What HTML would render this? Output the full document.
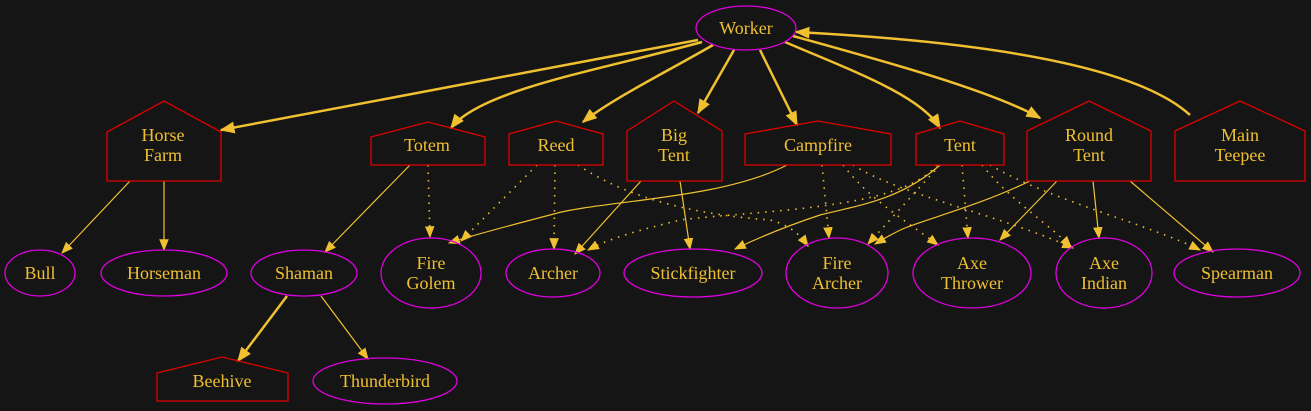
<!DOCTYPE html>
<html><head><style>
html,body{margin:0;padding:0;background:#151515;}
svg{display:block}
text{font-family:"Liberation Serif",serif;font-size:18px;fill:#f0c030;text-anchor:middle;}
.e{fill:none;stroke:#e000e0;stroke-width:1.3}
.h{fill:none;stroke:#e00000;stroke-width:1.3}
.l{fill:none;stroke:#f0c030;stroke-width:1.2}
.t{fill:none;stroke:#f0c030;stroke-width:2.5}
.d{fill:none;stroke:#f0c030;stroke-width:1.6;stroke-dasharray:1.5 6}
</style></head><body>
<svg width="1311" height="411" viewBox="0 0 1311 411" xmlns="http://www.w3.org/2000/svg">
<defs>
<marker id="a" viewBox="0 0 10 8" refX="9" refY="4" markerWidth="12" markerHeight="10" markerUnits="userSpaceOnUse" orient="auto"><path d="M0,0 L10,4 L0,8 Z" fill="#f0c030"/></marker>
<marker id="b" viewBox="0 0 10 8" refX="9" refY="4" markerWidth="15" markerHeight="12" markerUnits="userSpaceOnUse" orient="auto"><path d="M0,0 L10,4 L0,8 Z" fill="#f0c030"/></marker>
</defs>
<rect width="1311" height="411" fill="#151515"/>
<path class="t" marker-end="url(#b)" d="M698,40 L221,130"/>
<path class="t" marker-end="url(#b)" d="M702,42 C600,70 480,90 451,128"/>
<path class="t" marker-end="url(#b)" d="M713,45 C670,70 610,100 583,122"/>
<path class="t" marker-end="url(#b)" d="M734,50 L698,113"/>
<path class="t" marker-end="url(#b)" d="M760,50 L797,125"/>
<path class="t" marker-end="url(#b)" d="M785,42 C850,70 920,95 940,128"/>
<path class="t" marker-end="url(#b)" d="M793,36 C880,60 990,90 1040,118"/>
<path class="t" marker-end="url(#b)" d="M1190,115 C1130,60 950,40 796,32"/>
<path class="l" marker-end="url(#a)" d="M130,181 L62,253"/>
<path class="l" marker-end="url(#a)" d="M164,181 L164,250"/>
<path class="l" marker-end="url(#a)" d="M410,165 L325,252"/>
<path class="t" marker-end="url(#b)" d="M287,296 L238,361"/>
<path class="l" marker-end="url(#a)" d="M321,296 L368,359"/>
<path class="l" marker-end="url(#a)" d="M641,181 L575,254"/>
<path class="l" marker-end="url(#a)" d="M680,181 L690,249"/>
<path class="l" marker-end="url(#a)" d="M787,165 C720,200 600,200 550,215 C500,228 470,236 449,243"/>
<path class="l" marker-end="url(#a)" d="M940,165 C900,200 860,205 820,215 C790,225 760,237 735,249"/>
<path class="l" marker-end="url(#a)" d="M1030,181 C980,205 930,218 905,228 C895,232 885,238 875,244"/>
<path class="l" marker-end="url(#a)" d="M1057,181 L1000,240"/>
<path class="l" marker-end="url(#a)" d="M1093,181 L1099,238"/>
<path class="l" marker-end="url(#a)" d="M1130,181 L1213,252"/>
<path class="d" marker-end="url(#a)" d="M428,165 L430,237"/>
<path class="d" marker-end="url(#a)" d="M537,165 L461,241"/>
<path class="d" marker-end="url(#a)" d="M555,165 L554,249"/>
<path class="d" marker-end="url(#a)" d="M578,165 C630,200 700,215 770,220 C790,225 800,235 808,246"/>
<path class="d" marker-end="url(#a)" d="M822,165 L829,238"/>
<path class="d" marker-end="url(#a)" d="M843,165 C870,200 905,220 938,245"/>
<path class="d" marker-end="url(#a)" d="M853,165 C900,195 1000,215 1073,248"/>
<path class="d" marker-end="url(#a)" d="M937,165 C900,210 760,210 680,220 C640,230 610,238 588,250"/>
<path class="d" marker-end="url(#a)" d="M940,165 L868,244"/>
<path class="d" marker-end="url(#a)" d="M962,165 L968,238"/>
<path class="d" marker-end="url(#a)" d="M982,165 C1010,200 1050,225 1071,247"/>
<path class="d" marker-end="url(#a)" d="M990,165 C1050,200 1150,225 1200,250"/>
<ellipse class="e" cx="746" cy="28" rx="50" ry="22"/><text x="746" y="34">Worker</text>
<polygon class="h" points="107,132 164,101 221,132 221,181 107,181"/><text x="163" y="141">Horse</text><text x="163" y="161">Farm</text>
<polygon class="h" points="371,137 428,122 485,137 485,165 371,165"/><text x="427" y="151">Totem</text>
<polygon class="h" points="509,134 556,121 603,134 603,165 509,165"/><text x="556" y="151">Reed</text>
<polygon class="h" points="627,131 674,101 722,131 722,181 627,181"/><text x="674" y="141">Big</text><text x="674" y="161">Tent</text>
<polygon class="h" points="745,134 818,121 891,134 891,165 745,165"/><text x="818" y="151">Campfire</text>
<polygon class="h" points="916,134 960,121 1004,134 1004,165 916,165"/><text x="960" y="151">Tent</text>
<polygon class="h" points="1027,131 1089,101 1151,131 1151,181 1027,181"/><text x="1089" y="141">Round</text><text x="1089" y="161">Tent</text>
<polygon class="h" points="1175,131 1240,101 1305,131 1305,181 1175,181"/><text x="1240" y="141">Main</text><text x="1240" y="161">Teepee</text>
<ellipse class="e" cx="40" cy="273" rx="35" ry="23"/><text x="40" y="279">Bull</text>
<ellipse class="e" cx="164" cy="273" rx="63" ry="23"/><text x="164" y="279">Horseman</text>
<ellipse class="e" cx="304" cy="273" rx="53" ry="23"/><text x="304" y="279">Shaman</text>
<ellipse class="e" cx="431" cy="273" rx="50" ry="35"/><text x="431" y="269">Fire</text><text x="431" y="289">Golem</text>
<ellipse class="e" cx="553" cy="273" rx="47" ry="24"/><text x="553" y="279">Archer</text>
<ellipse class="e" cx="693" cy="273" rx="69" ry="24"/><text x="693" y="279">Stickfighter</text>
<ellipse class="e" cx="837" cy="273" rx="51" ry="35"/><text x="837" y="269">Fire</text><text x="837" y="289">Archer</text>
<ellipse class="e" cx="972" cy="273" rx="59" ry="35"/><text x="972" y="269">Axe</text><text x="972" y="289">Thrower</text>
<ellipse class="e" cx="1104" cy="273" rx="48" ry="35"/><text x="1104" y="269">Axe</text><text x="1104" y="289">Indian</text>
<ellipse class="e" cx="1237" cy="273" rx="63" ry="24"/><text x="1237" y="279">Spearman</text>
<polygon class="h" points="157,373 222,357 288,373 288,401 157,401"/><text x="222" y="387">Beehive</text>
<ellipse class="e" cx="385" cy="381" rx="72" ry="23"/><text x="385" y="387">Thunderbird</text>
</svg>
</body></html>
